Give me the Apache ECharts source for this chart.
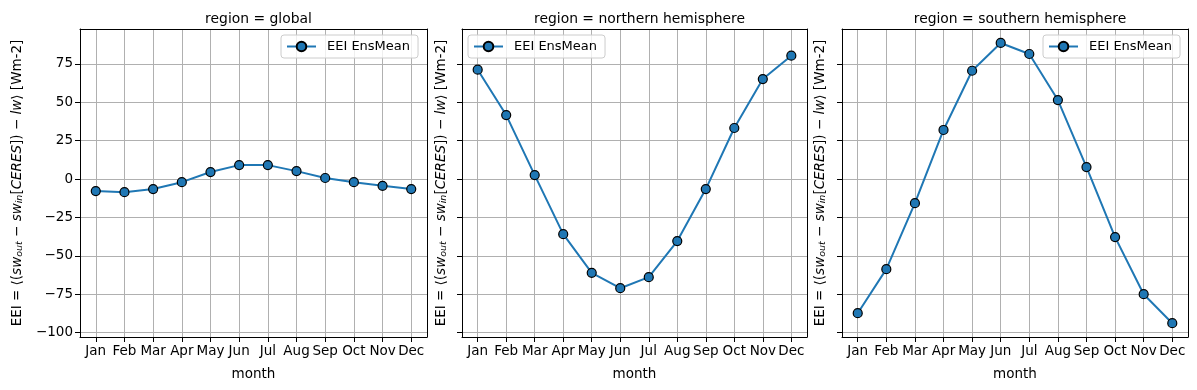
<!DOCTYPE html>
<html><head><meta charset="utf-8">
<script src="https://cdn.jsdelivr.net/npm/echarts@6/dist/echarts.min.js"></script>
<style>html,body{margin:0;padding:0;background:#fff}#c{width:1197px;height:390px}</style>
</head><body><div id="c"></div>
<script>
const months = ['Jan','Feb','Mar','Apr','May','Jun','Jul','Aug','Sep','Oct','Nov','Dec'];
const yTicks = [-100,-75,-50,-25,0,25,50,75];
const regions = ['global','northern hemisphere','southern hemisphere'];
const globalVals   = [-7.8,-8.5,-6.5,-2.0,4.6,9.1,9.1,5.2,0.7,-2.0,-4.4,-6.5];
const northernVals = [71.3,41.7,2.6,-35.9,-61.1,-71.1,-63.9,-40.4,-6.5,33.3,65.2,80.4];
const southernVals = [-87.4,-58.7,-15.7,32.0,70.6,88.7,81.5,51.5,7.8,-37.8,-75.0,-93.9];
const seriesName = 'EEI EnsMean';

(function(){
const allVals = [globalVals, northernVals, southernVals];
const FONT = 'DejaVu Sans';
const grids = [
  {left:80, top:29, width:347, height:308},
  {left:462, top:29, width:345, height:308},
  {left:842, top:29, width:346, height:308}
];
const legendLefts = [281, 468, 1043];
const nameGaps = [55, 13, 14];
const xIdx = months.map((m,i)=>i);

const yName = 'EEI = ⟨({i|sw}{s|out} − {i|sw}{s|in}[{i|CERES}]) − {i|lw}⟩ [Wm-2]';

const option = {
  animation:false,
  textStyle:{fontFamily:FONT},
  title: grids.map((g,k)=>({
    text:'region = '+regions[k], left:g.left+g.width/2, top:7, textAlign:'center',
    textStyle:{fontFamily:FONT,fontSize:13.9,fontWeight:'normal',color:'#000'}
  })),
  grid: grids.map(g=>Object.assign({containLabel:false}, g)),
  legend: grids.map((g,k)=>({
    left:legendLefts[k], top:35, orient:'vertical',
    data:[seriesName], itemWidth:29, itemHeight:12,
    padding:[5,8,5,5], borderColor:'#cccccc', borderWidth:1, borderRadius:3,
    backgroundColor:'rgba(255,255,255,0.8)',
    textStyle:{fontFamily:FONT,fontSize:13,color:'#000',padding:[0,0,0,6]},
    selectedMode:false
  })),
  xAxis: grids.map((g,k)=>({
    type:'value', gridIndex:k, min:-0.55, max:11.55,
    name:'month', nameLocation:'middle', nameGap:30,
    nameTextStyle:{fontFamily:FONT,fontSize:13.5,color:'#000'},
    axisLine:{show:true,onZero:false,lineStyle:{color:'#000',width:1}},
    axisTick:{show:true,length:5,lineStyle:{color:'#000'},customValues:xIdx},
    axisLabel:{show:true,color:'#000',fontFamily:FONT,fontSize:13.5,margin:7,customValues:xIdx,
      formatter:(v)=>months[Math.round(v)]},
    splitLine:{show:true,lineStyle:{color:'#b0b0b0',width:1}}
  })),
  yAxis: grids.map((g,k)=>({
    type:'value', gridIndex:k, min:-102.9, max:97.8,
    name:yName, nameLocation:'middle', nameGap:nameGaps[k], nameRotate:90,
    nameTextStyle:{fontFamily:FONT,fontSize:13.5,color:'#000',lineHeight:16,
      rich:{i:{fontStyle:'italic',fontSize:13.5,fontFamily:FONT,color:'#000',lineHeight:16},
            s:{fontStyle:'italic',fontSize:9.5,fontFamily:FONT,color:'#000',lineHeight:9,verticalAlign:'bottom'}}},
    axisLine:{show:true,onZero:false,lineStyle:{color:'#000',width:1}},
    axisTick:{show:true,length:5,lineStyle:{color:'#000'},customValues:yTicks},
    axisLabel:{show:k===0,color:'#000',fontFamily:FONT,fontSize:13.5,margin:7,customValues:yTicks,
      formatter:(v)=>String(v).replace('-','\u2212')},
    splitLine:{show:true,lineStyle:{color:'#b0b0b0',width:1}}
  })),
  series: allVals.map((vals,k)=>({
    type:'line', name:seriesName, xAxisIndex:k, yAxisIndex:k,
    data: vals.map((v,i)=>[i,v]),
    symbol:'circle', symbolSize:9, showAllSymbol:true,
    lineStyle:{color:'#1f77b4',width:2},
    itemStyle:{color:'#1f77b4',borderColor:'#000',borderWidth:1.2}
  }))
};
const topAxes = grids.map((g,k)=>({type:'value',gridIndex:k,position:'top',min:0,max:1,axisLine:{show:true,onZero:false,lineStyle:{color:'#000'}},axisTick:{show:false},axisLabel:{show:false},splitLine:{show:false}}));
const rightAxes = grids.map((g,k)=>({type:'value',gridIndex:k,position:'right',min:0,max:1,axisLine:{show:true,onZero:false,lineStyle:{color:'#000'}},axisTick:{show:false},axisLabel:{show:false},splitLine:{show:false}}));
option.xAxis = option.xAxis.concat(topAxes);
option.yAxis = option.yAxis.concat(rightAxes);
const chart = echarts.init(document.getElementById('c'),null,{renderer:'canvas'});
chart.setOption(option);
})();
</script></body></html>
